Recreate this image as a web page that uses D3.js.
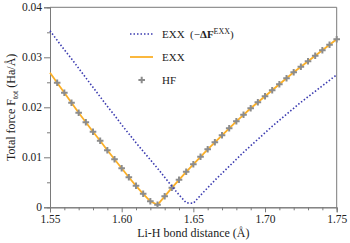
<!DOCTYPE html>
<html>
<head>
<meta charset="utf-8">
<script src="https://cdn.jsdelivr.net/npm/d3@7"></script>
<style>
  body { margin: 0; background: #fff; }
  svg { display: block; font-family: "Liberation Serif", "DejaVu Serif", serif; }
</style>
</head>
<body>
<div id="chart"></div>
<script>
const width = 350;
const height = 243;
const margin = { top: 7.3, right: 13.3, bottom: 35.7, left: 50 };

// Li-H bond distance (Å)
const bondDist = [1.550, 1.555, 1.560, 1.565, 1.570, 1.575, 1.580, 1.585, 1.590, 1.595,
  1.600, 1.605, 1.610, 1.615, 1.620, 1.625, 1.630, 1.635, 1.640, 1.645,
  1.650, 1.655, 1.660, 1.665, 1.670, 1.675, 1.680, 1.685, 1.690, 1.695,
  1.700, 1.705, 1.710, 1.715, 1.720, 1.725, 1.730, 1.735, 1.740, 1.745, 1.750];

// EXX (-ΔF^EXX), dotted blue
const exxDeltaF = [0.0353, 0.0334, 0.0315, 0.0297, 0.0278, 0.0259, 0.0240, 0.0221, 0.0202, 0.0184,
  0.0165, 0.0147, 0.0129, 0.0112, 0.0095, 0.0078, 0.0060, 0.0042, 0.0025, 0.0009,
  0.0008, 0.0024, 0.0039, 0.0054, 0.0068, 0.0082, 0.0096, 0.0110, 0.0123, 0.0136,
  0.0149, 0.0162, 0.0174, 0.0186, 0.0198, 0.0210, 0.0221, 0.0232, 0.0243, 0.0254, 0.0265];

// EXX, orange line
const exxF = [0.0269, 0.0249, 0.0229, 0.0209, 0.0189, 0.0170, 0.0151, 0.0133, 0.0114, 0.0096,
  0.0078, 0.0060, 0.0043, 0.0027, 0.0012, 0.0005, 0.0022, 0.0039, 0.0055, 0.0071,
  0.0086, 0.0101, 0.0116, 0.0130, 0.0144, 0.0158, 0.0172, 0.0185, 0.0198, 0.0210,
  0.0222, 0.0234, 0.0246, 0.0258, 0.0270, 0.0281, 0.0292, 0.0303, 0.0314, 0.0325, 0.0336];

// HF, gray crosses (no point at 1.550)
const hfDist = bondDist.slice(1);
const hfF = [0.0249, 0.0229, 0.0209, 0.0189, 0.0170, 0.0151, 0.0133, 0.0114, 0.0096,
  0.0078, 0.0060, 0.0043, 0.0027, 0.0012, 0.0005, 0.0022, 0.0039, 0.0055, 0.0071,
  0.0086, 0.0101, 0.0116, 0.0130, 0.0144, 0.0158, 0.0172, 0.0185, 0.0198, 0.0210,
  0.0222, 0.0234, 0.0246, 0.0258, 0.0270, 0.0281, 0.0292, 0.0303, 0.0314, 0.0325, 0.0336];

const xTicks = [1.55, 1.60, 1.65, 1.70, 1.75];
const xMinor = [1.56, 1.57, 1.58, 1.59, 1.61, 1.62, 1.63, 1.64, 1.66, 1.67, 1.68, 1.69, 1.71, 1.72, 1.73, 1.74];
const yTicks = [0, 0.01, 0.02, 0.03, 0.04];
const yMinor = [0.005, 0.015, 0.025, 0.035];

const axisColor = "#7a7a7a";
const blue = "#3b3bb0";
const orange = "#fbb029";
const gray = "#8c8c8c";

const svg = d3.select("#chart")
  .append("svg")
  .attr("width", width)
  .attr("height", height);

const x = d3.scaleLinear().domain([1.55, 1.75]).range([margin.left, width - margin.right]);
const y = d3.scaleLinear().domain([0, 0.04]).range([height - margin.bottom, margin.top]);

// Axes
const xAxis = svg.append("g")
  .attr("transform", `translate(0,${y(0)})`)
  .call(d3.axisBottom(x).tickValues(xTicks).tickFormat(d3.format(".2f")).tickSizeOuter(0).tickSize(5).tickPadding(3));
const xAxisMinor = svg.append("g")
  .attr("transform", `translate(0,${y(0)})`)
  .call(d3.axisBottom(x).tickValues(xMinor).tickFormat("").tickSizeOuter(0).tickSize(3));

const yAxis = svg.append("g")
  .attr("transform", `translate(${x(1.55)},0)`)
  .call(d3.axisLeft(y).tickValues(yTicks).tickFormat(d => d === 0 ? "0" : d3.format(".2f")(d)).tickSizeOuter(0).tickSize(6).tickPadding(2));
const yAxisMinor = svg.append("g")
  .attr("transform", `translate(${x(1.55)},0)`)
  .call(d3.axisLeft(y).tickValues(yMinor).tickFormat("").tickSizeOuter(0).tickSize(3));

[xAxis, xAxisMinor, yAxis, yAxisMinor].forEach(a => {
  a.selectAll("path, line").attr("stroke", axisColor);
  a.selectAll("text").attr("fill", "#222").style("font-size", "11.5px").style("font-family", "Liberation Serif, serif");
});

// top & right frame
svg.append("path")
  .attr("d", `M${x(1.55)},${y(0.04)}H${x(1.75)}V${y(0)}`)
  .attr("fill", "none")
  .attr("stroke", axisColor);

const line = d3.line().x(d => x(d[0])).y(d => y(d[1]));

// EXX orange
svg.append("path")
  .datum(d3.zip(bondDist, exxF))
  .attr("d", line)
  .attr("fill", "none")
  .attr("stroke", orange)
  .attr("stroke-width", 1.8);

// HF crosses
svg.append("g")
  .selectAll("path")
  .data(d3.zip(hfDist, hfF))
  .join("path")
  .attr("d", d => `M${x(d[0]) - 3.3},${y(d[1])}h6.6M${x(d[0])},${y(d[1]) - 3.3}v6.6`)
  .attr("stroke", gray)
  .attr("stroke-width", 2);

// EXX (-ΔF) dotted blue
svg.append("path")
  .datum(d3.zip(bondDist, exxDeltaF))
  .attr("d", line)
  .attr("fill", "none")
  .attr("stroke", blue)
  .attr("stroke-width", 1.6)
  .attr("stroke-dasharray", "1.5,2");

// Legend
const legend = svg.append("g").style("font-size", "11px").attr("fill", "#222");
legend.append("line")
  .attr("x1", 130).attr("x2", 153).attr("y1", 34).attr("y2", 34)
  .attr("stroke", blue).attr("stroke-width", 1.6).attr("stroke-dasharray", "1.5,2");
const t1 = legend.append("text").attr("x", 162).attr("y", 38);
t1.append("tspan").text("EXX\u2002(\u2212");
t1.append("tspan").attr("font-weight", "bold").text("\u0394F");
t1.append("tspan").attr("font-size", "8px").attr("dy", -4.5).text("EXX");
t1.append("tspan").attr("dy", 4.5).text(")");

legend.append("line")
  .attr("x1", 130).attr("x2", 153).attr("y1", 57).attr("y2", 57)
  .attr("stroke", orange).attr("stroke-width", 1.8);
legend.append("text").attr("x", 162).attr("y", 61).text("EXX");

legend.append("path")
  .attr("d", `M${141.7 - 3.3},80h6.6M141.7,${80 - 3.3}v6.6`)
  .attr("stroke", gray).attr("stroke-width", 2);
legend.append("text").attr("x", 162).attr("y", 84).text("HF");

// Axis titles
svg.append("text")
  .attr("x", (x(1.55) + x(1.75)) / 2)
  .attr("y", 237)
  .attr("text-anchor", "middle")
  .style("font-size", "12px")
  .attr("fill", "#222")
  .text("Li-H bond distance (\u00c5)");

const yt = svg.append("text")
  .attr("transform", `translate(15,${(y(0) + y(0.04)) / 2}) rotate(-90)`)
  .attr("text-anchor", "middle")
  .style("font-size", "12px")
  .attr("fill", "#222");
yt.append("tspan").text("Total force F");
yt.append("tspan").attr("font-size", "8px").attr("dy", 2.5).text("tot");
yt.append("tspan").attr("dy", -2.5).text(" (Ha/\u00c5)");
</script>
</body>
</html>
